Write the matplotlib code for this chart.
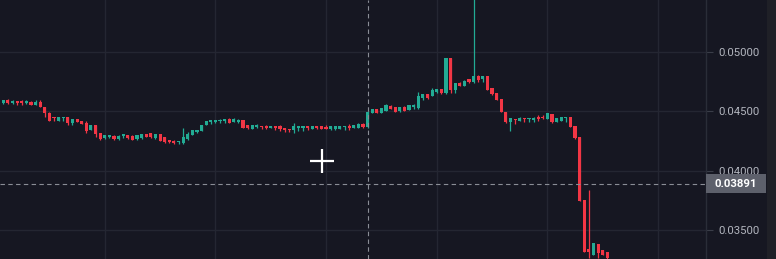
import numpy as np
import matplotlib
matplotlib.use("Agg")
import matplotlib.pyplot as plt
from matplotlib.patches import Rectangle
import matplotlib.transforms as mtransforms

# ---------------- data ----------------
opens = [0.04567, 0.04595, 0.04570, 0.04580, 0.04586, 0.04570, 0.04580, 0.04553, 0.04575, 0.04538,
         0.04488, 0.04449, 0.04420, 0.04443, 0.04449, 0.04403, 0.04432, 0.04420, 0.04398, 0.04342,
         0.04382, 0.04314, 0.04272, 0.04287, 0.04294, 0.04263, 0.04295, 0.04300, 0.04294, 0.04263,
         0.04272, 0.04308, 0.04314, 0.04272, 0.04308, 0.04285, 0.04258, 0.04252, 0.04238, 0.04230,
         0.04263, 0.04300, 0.04328, 0.04336, 0.04384, 0.04412, 0.04412, 0.04418, 0.04420, 0.04432,
         0.04412, 0.04412, 0.04426, 0.04384, 0.04350, 0.04370, 0.04378, 0.04370, 0.04359, 0.04378,
         0.04376, 0.04361, 0.04350, 0.04342, 0.04359, 0.04362, 0.04372, 0.04350, 0.04376, 0.04378,
         0.04365, 0.04348, 0.04350, 0.04352, 0.04365, 0.04378, 0.04357, 0.04362, 0.04392, 0.04370,
         0.04488, 0.04519, 0.04488, 0.04505, 0.04547, 0.04533, 0.04500, 0.04538, 0.04511, 0.04538,
         0.04525, 0.04609, 0.04643, 0.04629, 0.04665, 0.04685, 0.04651, 0.04951, 0.04679, 0.04741,
         0.04715, 0.04772, 0.04744, 0.04800, 0.04769, 0.04797, 0.04693, 0.04651, 0.04603, 0.04496,
         0.04412, 0.04435, 0.04418, 0.04446, 0.04435, 0.04426, 0.04454, 0.04446, 0.04435, 0.04474,
         0.04412, 0.04420, 0.04443, 0.04454, 0.04378, 0.04285, 0.03752, 0.03338, 0.03288, 0.03378,
         0.03330, 0.03316]
highs = [0.04599, 0.04601, 0.04595, 0.04580, 0.04591, 0.04591, 0.04584, 0.04595, 0.04595, 0.04540,
         0.04490, 0.04449, 0.04451, 0.04449, 0.04451, 0.04434, 0.04434, 0.04422, 0.04420, 0.04384,
         0.04384, 0.04316, 0.04304, 0.04295, 0.04296, 0.04296, 0.04307, 0.04302, 0.04296, 0.04302,
         0.04309, 0.04310, 0.04321, 0.04310, 0.04310, 0.04287, 0.04258, 0.04254, 0.04252, 0.04356,
         0.04328, 0.04342, 0.04342, 0.04388, 0.04420, 0.04420, 0.04426, 0.04435, 0.04432, 0.04445,
         0.04440, 0.04435, 0.04428, 0.04386, 0.04386, 0.04392, 0.04378, 0.04384, 0.04380, 0.04378,
         0.04384, 0.04363, 0.04350, 0.04398, 0.04372, 0.04372, 0.04378, 0.04378, 0.04376, 0.04380,
         0.04384, 0.04378, 0.04378, 0.04380, 0.04380, 0.04390, 0.04386, 0.04403, 0.04403, 0.04502,
         0.04521, 0.04521, 0.04527, 0.04559, 0.04550, 0.04536, 0.04540, 0.04547, 0.04555, 0.04561,
         0.04665, 0.04645, 0.04645, 0.04693, 0.04687, 0.04687, 0.04953, 0.04953, 0.04738, 0.04743,
         0.04760, 0.04774, 0.05600, 0.04802, 0.04799, 0.04799, 0.04695, 0.04653, 0.04605, 0.04498,
         0.04443, 0.04435, 0.04448, 0.04446, 0.04446, 0.04448, 0.04469, 0.04469, 0.04485, 0.04476,
         0.04443, 0.04451, 0.04451, 0.04456, 0.04380, 0.04287, 0.03754, 0.03836, 0.03389, 0.03380,
         0.03332, 0.03318]
lows = [0.04561, 0.04561, 0.04561, 0.04553, 0.04553, 0.04561, 0.04550, 0.04550, 0.04533, 0.04449,
        0.04418, 0.04420, 0.04418, 0.04420, 0.04386, 0.04386, 0.04407, 0.04390, 0.04314, 0.04340,
        0.04285, 0.04259, 0.04268, 0.04272, 0.04260, 0.04260, 0.04272, 0.04270, 0.04256, 0.04260,
        0.04270, 0.04280, 0.04272, 0.04266, 0.04250, 0.04236, 0.04230, 0.04221, 0.04224, 0.04228,
        0.04260, 0.04298, 0.04314, 0.04334, 0.04382, 0.04390, 0.04398, 0.04403, 0.04405, 0.04401,
        0.04410, 0.04403, 0.04360, 0.04350, 0.04348, 0.04356, 0.04350, 0.04350, 0.04357, 0.04342,
        0.04333, 0.04328, 0.04328, 0.04319, 0.04333, 0.04336, 0.04342, 0.04348, 0.04348, 0.04348,
        0.04348, 0.04346, 0.04346, 0.04348, 0.04346, 0.04346, 0.04355, 0.04360, 0.04357, 0.04357,
        0.04486, 0.04486, 0.04486, 0.04503, 0.04517, 0.04492, 0.04498, 0.04503, 0.04509, 0.04519,
        0.04519, 0.04595, 0.04601, 0.04627, 0.04651, 0.04649, 0.04649, 0.04651, 0.04656, 0.04713,
        0.04713, 0.04742, 0.04742, 0.04749, 0.04749, 0.04677, 0.04641, 0.04593, 0.04490, 0.04405,
        0.04333, 0.04390, 0.04416, 0.04412, 0.04412, 0.04412, 0.04418, 0.04438, 0.04433, 0.04403,
        0.04410, 0.04418, 0.04412, 0.04367, 0.04270, 0.03741, 0.03314, 0.03260, 0.03286, 0.03262,
        0.03286, 0.03255]
closes = [0.04595, 0.04567, 0.04586, 0.04574, 0.04570, 0.04586, 0.04553, 0.04580, 0.04533, 0.04483,
          0.04420, 0.04443, 0.04449, 0.04449, 0.04403, 0.04432, 0.04409, 0.04392, 0.04336, 0.04382,
          0.04306, 0.04263, 0.04300, 0.04294, 0.04263, 0.04294, 0.04306, 0.04272, 0.04258, 0.04300,
          0.04307, 0.04280, 0.04285, 0.04308, 0.04252, 0.04238, 0.04244, 0.04230, 0.04252, 0.04285,
          0.04306, 0.04340, 0.04342, 0.04388, 0.04418, 0.04420, 0.04426, 0.04426, 0.04432, 0.04403,
          0.04432, 0.04426, 0.04362, 0.04362, 0.04384, 0.04378, 0.04365, 0.04362, 0.04378, 0.04362,
          0.04350, 0.04342, 0.04342, 0.04378, 0.04372, 0.04372, 0.04359, 0.04376, 0.04362, 0.04350,
          0.04350, 0.04376, 0.04376, 0.04378, 0.04378, 0.04362, 0.04384, 0.04392, 0.04370, 0.04496,
          0.04519, 0.04488, 0.04525, 0.04553, 0.04519, 0.04496, 0.04538, 0.04505, 0.04553, 0.04553,
          0.04631, 0.04643, 0.04614, 0.04679, 0.04685, 0.04651, 0.04951, 0.04679, 0.04736, 0.04715,
          0.04758, 0.04744, 0.04800, 0.04763, 0.04797, 0.04679, 0.04643, 0.04595, 0.04496, 0.04412,
          0.04440, 0.04426, 0.04446, 0.04435, 0.04446, 0.04446, 0.04435, 0.04440, 0.04483, 0.04407,
          0.04440, 0.04449, 0.04451, 0.04370, 0.04272, 0.03743, 0.03316, 0.03316, 0.03387, 0.03302,
          0.03288, 0.03260]

price_ticks = [0.035, 0.040, 0.045, 0.050]
price_tick_labels = ["0.03500", "0.04000", "0.04500", "0.05000"]
time_grid_index = [22, 46, 70, 94, 118, 142]
crosshair_index = 79
crosshair_price = 0.03891
crosshair_label = "0.03891"

# ---------------- style ----------------
BG = "#161722"
GRID = "#242632"
UP = "#22ab94"
DOWN = "#f23645"
TXT = "#b2b5be"
CROSS = "#8a8d96"

W, H = 776, 259
fig = plt.figure(figsize=(W / 100, H / 100), dpi=100)
fig.patch.set_facecolor(BG)
ax = fig.add_axes([0, 0, 706 / W, 1])
ax.set_facecolor(BG)

o = np.array(opens); h = np.array(highs); l = np.array(lows); c = np.array(closes)
x = np.arange(len(o))
up = c >= o
colors = np.where(up, UP, DOWN)

ax.vlines(x, l, h, colors=colors, linewidth=0.9, zorder=3)
body_bottom = np.minimum(o, c)
body_h = np.maximum(np.abs(c - o), 0.00012)
ax.bar(x, body_h, bottom=body_bottom, width=0.68, color=colors, linewidth=0, zorder=4)

ax.set_xlim(-0.716, 152.4)
ax.set_ylim(0.03255, 0.05438)

# grid
ax.set_yticks(price_ticks)
ax.set_yticklabels(price_tick_labels)
ax.set_xticks(time_grid_index)
ax.set_xticklabels([])
ax.grid(True, color=GRID, linewidth=1.0, zorder=0)
ax.set_axisbelow(True)

ax.yaxis.tick_right()
ax.tick_params(axis='y', right=True, left=False, length=5, width=0.8, color="#3a3d48",
               labelcolor=TXT, labelsize=8.2, pad=4)
ax.tick_params(axis='x', length=0)
for lab in ax.get_yticklabels():
    lab.set_fontfamily("Roboto")
for s in ["top", "left", "bottom"]:
    ax.spines[s].set_visible(False)
ax.spines["right"].set_color("#2a2d38")
ax.spines["right"].set_linewidth(1.0)

# crosshair
ax.axvline(crosshair_index, color=CROSS, linewidth=0.8, dashes=(4, 3), zorder=6)
ax.axhline(crosshair_price, color=CROSS, linewidth=0.8, dashes=(4, 3), zorder=6)

# crosshair price label box on the price scale
trans = mtransforms.blended_transform_factory(ax.transAxes, ax.transData)
box_h = 19 * (0.05438 - 0.03255) / H
rect = Rectangle((1.0, crosshair_price - box_h / 2), 60 / 706, box_h, transform=trans,
                 facecolor="#5d606b", edgecolor="none", clip_on=False, zorder=10)
ax.add_patch(rect)
ax.text(1.0 + 30 / 706, crosshair_price, crosshair_label, transform=trans, ha="center",
        va="center", color="white", fontsize=8.2, fontweight="bold", family="Roboto",
        clip_on=False, zorder=11)

# mouse cursor
ax.plot([321.7 / 706], [(H - 161) / H], marker="+", markersize=17, markeredgewidth=1.6,
        color="white", transform=ax.transAxes, zorder=12, clip_on=False)

# right edge strip
fig.patches.append(Rectangle((767 / W, 0), 9 / W, 1, transform=fig.transFigure,
                             facecolor="#1f2027", edgecolor="none", zorder=-1))

fig.savefig("out.png", dpi=100, facecolor=BG)
